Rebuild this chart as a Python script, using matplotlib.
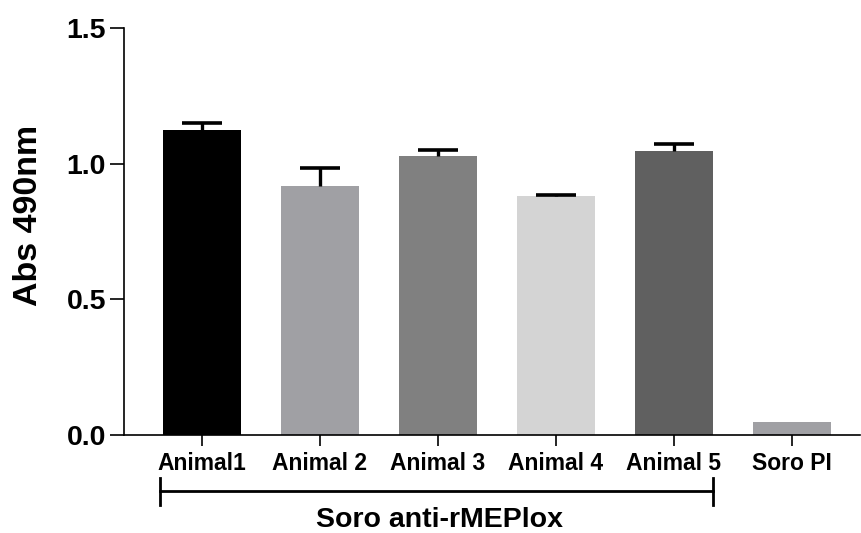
import numpy as np
import matplotlib.pyplot as plt
import matplotlib.transforms as mtransforms

plt.rcParams['font.family'] = ['Liberation Sans', 'DejaVu Sans']
plt.rcParams['font.weight'] = 'bold'

# Absorbance values per serum sample
groups = ['Animal1', 'Animal 2', 'Animal 3', 'Animal 4', 'Animal 5', 'Soro PI']
means = [1.123, 0.916, 1.027, 0.882, 1.045, 0.049]
errors = [0.025, 0.068, 0.022, 0.004, 0.028, 0.0]
colors = ['#000000', '#a0a0a4', '#808080', '#d4d4d4', '#606060', '#a0a0a4']
bracket_label = 'Soro anti-rMEPlox'

fig = plt.figure(figsize=(8.62, 5.33), dpi=100)
ax = fig.add_axes([0.1439, 0.1839, 0.8538, 0.7636])

x = np.arange(len(groups))
m = np.array(means)
e = np.array(errors)
ax.bar(x, m, width=0.66, color=colors, zorder=2)

# upper error bars only (SEM), skipped where there is none
has_err = e > 0
top = m + e
ax.vlines(x[has_err], m[has_err], top[has_err], color='black', lw=2.4, zorder=3)
ax.hlines(top[has_err], x[has_err] - 0.17, x[has_err] + 0.17, color='black',
          lw=2.6, zorder=3)

ax.set_xlim(-0.66, 5.58)
ax.set_ylim(0, 1.5)
ax.set_yticks([0.0, 0.5, 1.0, 1.5])
ax.set_yticklabels(['0.0', '0.5', '1.0', '1.5'], fontsize=20.5, fontweight='bold')
ax.set_xticks(x)
ax.set_xticklabels(groups, fontsize=16.5, fontweight='bold')
ax.set_ylabel('Abs 490nm', fontsize=24.5, fontweight='bold')
ax.yaxis.set_label_coords(-0.109, 0.54)

for side in ['top', 'right']:
    ax.spines[side].set_visible(False)
for side in ['left', 'bottom']:
    ax.spines[side].set_linewidth(1.2)
ax.tick_params(axis='y', length=10, width=1.2, pad=3)
ax.tick_params(axis='x', length=8, width=1.2, pad=4)

# Bracket grouping the immunised animals
trans = mtransforms.blended_transform_factory(ax.transData, fig.transFigure)
y_line = 1 - 491 / 533
y_lo, y_hi = 1 - 505 / 533, 1 - 478 / 533
x0, x1 = -0.356, 4.33
ax.plot([x0, x1], [y_line, y_line], color='black', lw=2, transform=trans, clip_on=False)
ax.plot([x0, x0], [y_lo, y_hi], color='black', lw=2, transform=trans, clip_on=False)
ax.plot([x1, x1], [y_lo, y_hi], color='black', lw=2, transform=trans, clip_on=False)
ax.text((x0 + x1) / 2 + 0.03, 1 - 520 / 533, bracket_label, transform=trans,
        ha='center', va='center', fontsize=20.5, fontweight='bold')

fig.savefig('out.png', dpi=100)
